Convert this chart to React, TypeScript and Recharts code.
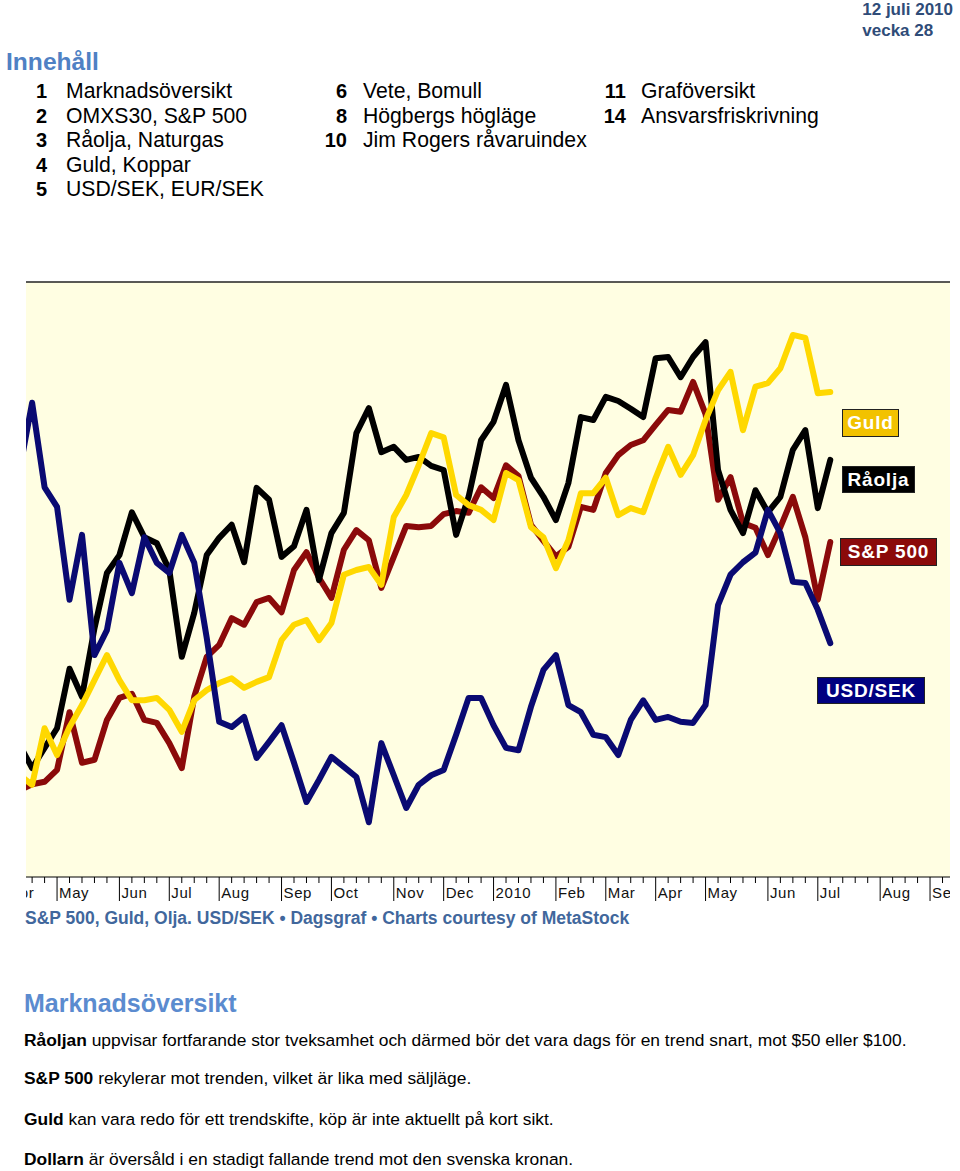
import React from 'react';
import { LineChart, Line, XAxis, YAxis, CartesianGrid, ReferenceLine } from 'recharts';

// weekly closes, normalised overlay (0-100), week 0 = first week of May 2009
const weeks = [
  -3, -2, -1, 0, 1, 2, 3, 4, 5, 6, 7, 8, 9, 10, 11, 12, 13, 14, 15, 16, 17, 18, 19, 20, 21, 22,
  23, 24, 25, 26, 27, 28, 29, 30, 31, 32, 33, 34, 35, 36, 37, 38, 39, 40, 41, 42, 43, 44, 45, 46,
  47, 48, 49, 50, 51, 52, 53, 54, 55, 56, 57, 58, 59, 60, 61, 62,
];

const raolja = [
  22.2, 18.3, 21.7, 25.0, 35.0, 30.3, 41.8, 51.1, 54.1, 61.3, 57.1, 56.1, 51.6, 37.0, 44.4, 54.1,
  57.0, 59.2, 52.9, 65.4, 63.4, 53.8, 55.6, 61.7, 49.9, 57.8, 61.2, 74.6, 78.8, 71.4, 72.3, 70.1,
  70.6, 69.1, 68.4, 57.5, 63.9, 73.4, 76.5, 82.7, 73.4, 67.1, 63.9, 60.0, 66.2, 77.3, 76.8, 80.7,
  80.0, 78.7, 77.3, 87.2, 87.4, 84.0, 87.4, 89.9, 68.4, 61.7, 57.8, 65.0, 61.3, 63.9, 71.8, 75.1,
  62.0, 70.1,
];

const sp500 = [
  14.6, 15.6, 16.0, 18.0, 27.7, 19.2, 19.7, 26.4, 30.1, 30.8, 26.4, 25.9, 22.5, 18.3, 30.3, 37.0,
  39.0, 43.5, 42.4, 46.2, 46.9, 44.5, 51.6, 54.6, 50.3, 46.9, 55.0, 58.3, 56.6, 48.6, 53.8, 59.0,
  58.8, 59.0, 61.0, 61.5, 61.2, 65.5, 63.7, 69.2, 67.4, 59.2, 56.5, 53.9, 55.5, 62.2, 61.7, 67.9,
  70.9, 72.6, 73.4, 76.0, 78.5, 78.2, 83.2, 77.8, 63.4, 67.2, 59.5, 58.7, 54.1, 58.8, 63.9, 57.1,
  46.6, 56.3,
];

const guld = [
  17.1, 15.5, 25.0, 20.5, 25.2, 28.9, 33.1, 37.3, 33.1, 29.7, 29.7, 30.1, 28.1, 24.4, 29.7, 31.4,
  32.6, 33.4, 31.8, 32.8, 33.6, 39.8, 42.4, 43.2, 39.8, 42.7, 50.8, 51.6, 52.1, 49.1, 60.5, 64.2,
  69.2, 74.6, 73.9, 64.2, 62.5, 61.7, 60.0, 67.9, 66.7, 58.8, 57.1, 51.9, 56.6, 64.5, 64.5, 67.1,
  60.8, 62.0, 61.3, 67.1, 72.3, 67.6, 70.9, 76.8, 81.8, 84.9, 75.1, 82.4, 83.0, 85.5, 91.1, 90.6,
  81.3, 81.5,
];

const usdsek = [
  68.4, 79.7, 65.5, 62.2, 46.6, 57.5, 37.3, 41.5, 52.8, 47.7, 57.1, 52.8, 51.1, 57.5, 52.8, 40.2,
  26.1, 25.2, 26.9, 20.0, 22.7, 25.5, 19.2, 12.6, 16.3, 20.2, 18.5, 16.8, 9.2, 22.5, 17.1, 11.6,
  15.5, 17.1, 18.0, 23.9, 30.1, 30.1, 25.5, 21.7, 21.3, 28.6, 34.8, 37.3, 28.9, 27.7, 23.9, 23.5,
  20.5, 26.4, 29.7, 26.4, 26.9, 26.1, 25.9, 28.9, 45.7, 50.8, 52.9, 54.5, 61.7, 57.8, 49.6, 49.4,
  44.9, 39.3,
];

// first week of each month on the weekly axis
const monthWeeks = [-4, 0, 5, 9, 13, 18, 22, 27, 31, 35, 40, 44, 48, 52, 57, 61, 66, 70];
const monthLabels = ['Apr', 'May', 'Jun', 'Jul', 'Aug', 'Sep', 'Oct', 'Nov', 'Dec', '2010', 'Feb', 'Mar', 'Apr', 'May', 'Jun', 'Jul', 'Aug', 'Sep'];

const tocItems = [
  { num: '1', text: 'Marknadsöversikt', col: 0, row: 0 },
  { num: '2', text: 'OMXS30, S&P 500', col: 0, row: 1 },
  { num: '3', text: 'Råolja, Naturgas', col: 0, row: 2 },
  { num: '4', text: 'Guld, Koppar', col: 0, row: 3 },
  { num: '5', text: 'USD/SEK, EUR/SEK', col: 0, row: 4 },
  { num: '6', text: 'Vete, Bomull', col: 1, row: 0 },
  { num: '8', text: 'Högbergs högläge', col: 1, row: 1 },
  { num: '10', text: 'Jim Rogers råvaruindex', col: 1, row: 2 },
  { num: '11', text: 'Grafövers­ikt'.replace('\u00ad', ''), col: 2, row: 0 },
  { num: '14', text: 'Ansvarsfriskrivning', col: 2, row: 1 },
];

const paragraphs = [
  { lead: 'Råoljan', text: ' uppvisar fortfarande stor tveksamhet och därmed bör det vara dags för en trend snart, mot $50 eller $100.' },
  { lead: 'S&P 500', text: ' rekylerar mot trenden, vilket är lika med säljläge.' },
  { lead: 'Guld', text: ' kan vara redo för ett trendskifte, köp är inte aktuellt på kort sikt.' },
  { lead: 'Dollarn', text: ' är översåld i en stadigt fallande trend mot den svenska kronan.' },
];

const data = weeks.map((w, i) => ({
  w,
  raolja: raolja[i],
  sp500: sp500[i],
  guld: guld[i],
  usdsek: usdsek[i],
}));

const axisTicks: number[] = [];
for (let w = -4; w <= 71; w++) axisTicks.push(w);

const FONT = '"Liberation Sans", Arial, Helvetica, sans-serif';

const AxisTick = (props: any) => {
  const { x, y, payload } = props;
  const idx = monthWeeks.indexOf(payload.value);
  if (idx < 0) {
    return <line x1={x} x2={x} y1={y} y2={y + 6} stroke="#000" strokeWidth={1} />;
  }
  return (
    <g>
      <line x1={x} x2={x} y1={y} y2={y + 24} stroke="#000" strokeWidth={1} />
      <text x={x + 2} y={y + 21} fontSize={15} fontFamily={FONT} fill="#111" letterSpacing={0.6}>
        {monthLabels[idx]}
      </text>
    </g>
  );
};

const tagStyle = (left: number, top: number, width: number, height: number, bg: string): React.CSSProperties => ({
  position: 'absolute',
  left,
  top,
  width,
  height,
  boxSizing: 'border-box',
  background: bg,
  border: '1px solid #222',
  color: '#fff',
  fontFamily: FONT,
  fontWeight: 700,
  fontSize: 19,
  lineHeight: `${height - 2}px`,
  textAlign: 'center',
  letterSpacing: 0.8,
  whiteSpace: 'nowrap',
});

const numCols = [{ numRight: 47, textLeft: 66 }, { numRight: 347, textLeft: 363 }, { numRight: 626, textLeft: 641 }];

export default function App() {
  return (
    <div style={{ position: 'absolute', left: 0, top: 0, width: 960, height: 1171, background: '#fff', fontFamily: FONT, color: '#000' }}>
      <div style={{ position: 'absolute', right: 7, top: -1, textAlign: 'right', fontSize: 17, fontWeight: 700, lineHeight: '21px', color: '#2F4C78' }}>
        <div>12 juli 2010</div>
        <div style={{ textAlign: 'left' }}>vecka 28</div>
      </div>

      <div style={{ position: 'absolute', left: 6, top: 48, fontSize: 24.6, fontWeight: 700, lineHeight: '28px', color: '#4F81C4' }}>Innehåll</div>

      {tocItems.map((it) => {
        const c = numCols[it.col];
        const top = 79 + it.row * 24.5;
        return (
          <React.Fragment key={it.num}>
            <div style={{ position: 'absolute', left: c.numRight - 40, width: 40, top, fontSize: 20, lineHeight: '24px', fontWeight: 700, textAlign: 'right' }}>{it.num}</div>
            <div style={{ position: 'absolute', left: c.textLeft, top, fontSize: 21.2, lineHeight: '24px', whiteSpace: 'nowrap' }}>{it.text}</div>
          </React.Fragment>
        );
      })}

      <div style={{ position: 'absolute', left: 26, top: 262, width: 924, height: 640, overflow: 'hidden' }}>
        <LineChart width={924} height={640} data={data} margin={{ top: 20, right: 0, bottom: 0, left: 0 }}>
          <CartesianGrid fill="#FFFEE2" stroke="none" horizontal={false} vertical={false} />
          <XAxis
            dataKey="w"
            type="number"
            domain={[-2.49, 71.6]}
            allowDataOverflow
            ticks={axisTicks}
            interval={0}
            tickSize={0}
            tickMargin={0}
            tickLine={false}
            tick={<AxisTick />}
            axisLine={{ stroke: '#000', strokeWidth: 1.2 }}
            height={25}
          />
          <YAxis hide type="number" domain={[0, 100]} allowDataOverflow />
          <ReferenceLine y={100} stroke="#222" strokeWidth={1.5} />
          <Line type="linear" dataKey="sp500" stroke="#8B0A0A" strokeWidth={6} dot={false} strokeLinejoin="round" strokeLinecap="round" isAnimationActive={false} />
          <Line type="linear" dataKey="raolja" stroke="#000000" strokeWidth={6} dot={false} strokeLinejoin="round" strokeLinecap="round" isAnimationActive={false} />
          <Line type="linear" dataKey="guld" stroke="#FFD800" strokeWidth={6} dot={false} strokeLinejoin="round" strokeLinecap="round" isAnimationActive={false} />
          <Line type="linear" dataKey="usdsek" stroke="#0A0A72" strokeWidth={6} dot={false} strokeLinejoin="round" strokeLinecap="round" isAnimationActive={false} />
        </LineChart>
      </div>

      <div style={tagStyle(842, 409, 57, 28, '#F2C200')}>Guld</div>
      <div style={tagStyle(842, 466, 73, 27, '#000')}>Råolja</div>
      <div style={tagStyle(840, 538, 97, 28, '#8B0A0A')}>S&amp;P 500</div>
      <div style={tagStyle(817, 677, 108, 27, '#000080')}>USD/SEK</div>

      <div style={{ position: 'absolute', left: 25, top: 907, fontSize: 17.5, fontWeight: 700, lineHeight: '22px', color: '#41679C', whiteSpace: 'nowrap' }}>
        S&amp;P 500, Guld, Olja. USD/SEK • Dagsgraf • Charts courtesy of MetaStock
      </div>

      <div style={{ position: 'absolute', left: 24, top: 989, fontSize: 25, fontWeight: 700, lineHeight: '28px', color: '#5B8BCF' }}>Marknadsöversikt</div>

      {paragraphs.map((p, i) => (
        <div key={p.lead} style={{ position: 'absolute', left: 24, top: [1029, 1067, 1108, 1148][i], fontSize: 17.4, lineHeight: '22px', whiteSpace: 'nowrap' }}>
          <b>{p.lead}</b>
          {p.text}
        </div>
      ))}
    </div>
  );
}
